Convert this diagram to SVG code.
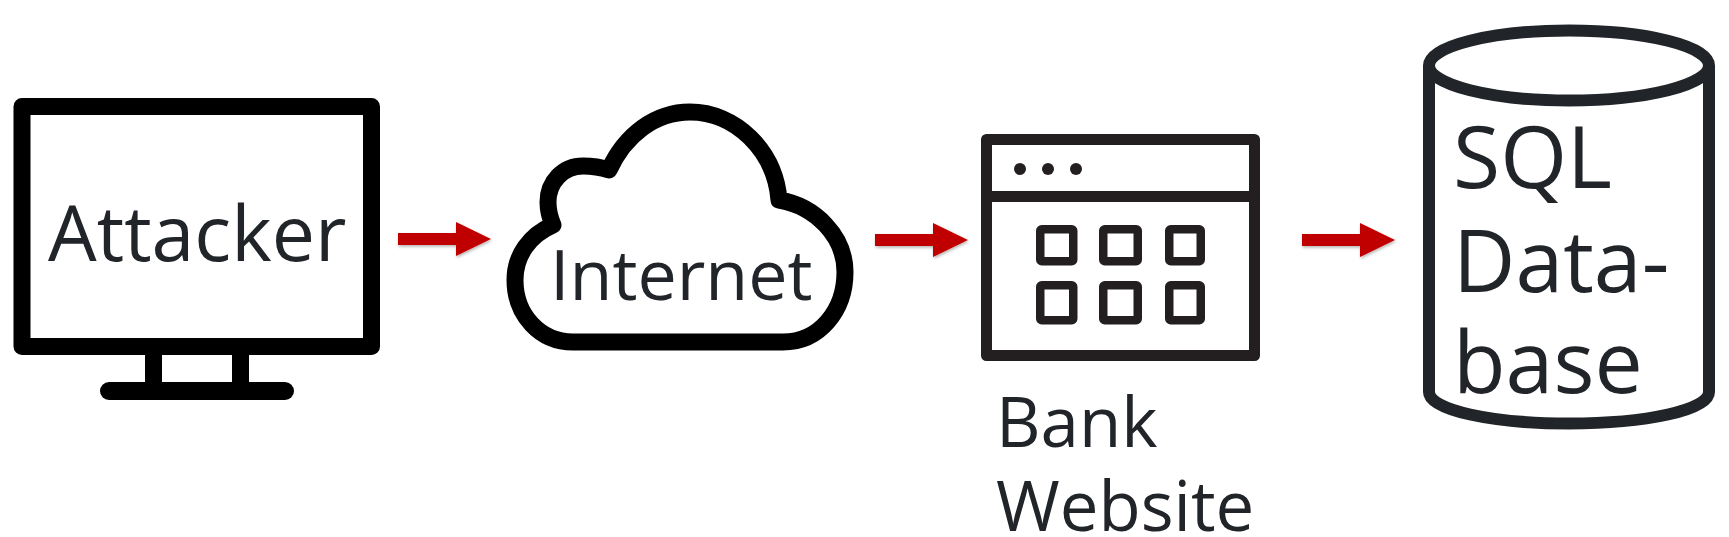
<svg xmlns="http://www.w3.org/2000/svg" width="1729" height="537" viewBox="0 0 1729 537">
  <style>
    text { font-family: "Open Sans", "Noto Sans", sans-serif; font-weight: 400; fill: #212529; }
    .icon { fill: none; stroke: #000; stroke-width: 17; stroke-linejoin: round; }
    .web { fill: none; stroke: #231f20; stroke-width: 11; stroke-linejoin: round; }
    .cell { fill: none; stroke: #231f20; stroke-width: 8.5; stroke-linejoin: round; }
    .db { fill: none; stroke: #212529; stroke-width: 12; stroke-linejoin: round; }
    .flow { stroke: #c00000; stroke-width: 12; fill: none; marker-end: url(#head); }
  </style>
  <defs>
    <marker id="head" markerUnits="userSpaceOnUse" markerWidth="35" markerHeight="34" refX="0" refY="17" orient="auto">
      <path d="M0 0 L35 17 L0 34 Z" fill="#c00000"/>
    </marker>
    <filter id="soft" filterUnits="userSpaceOnUse" x="380" y="200" width="1030" height="80">
      <feDropShadow dx="0.8" dy="1.6" stdDeviation="1.4" flood-color="#000" flood-opacity="0.3"/>
    </filter>
  </defs>
  <rect width="1729" height="537" fill="#fff"/>

  <g id="connectors" filter="url(#soft)">
    <line class="flow" x1="398" y1="239" x2="456" y2="239"/>
    <line class="flow" x1="875" y1="240" x2="933" y2="240"/>
    <line class="flow" x1="1302" y1="240" x2="1360" y2="240"/>
  </g>

  <g id="attacker">
    <rect class="icon" x="22" y="106.500" width="349.500" height="240"/>
    <rect x="145" y="350" width="17" height="36"/>
    <rect x="232" y="350" width="17" height="36"/>
    <rect x="100" y="382" width="194" height="18" rx="9"/>
    <text x="48" y="261" font-size="77">Attacker</text>
  </g>

  <g id="internet">
    <path class="icon" d="M573 342 H783 C820 342 845 310 845 272 C845 236 815 206 779 200 C775 150 735 112 690 112 C655 112 625 135 609 170 C600 167 592 166 583 166 C563 166 548 182 548 202 C548 210 550 218 553 225 C530 235 515 255 515 280 C515 315 540 342 573 342 Z"/>
    <text x="550" y="300" font-size="70">Internet</text>
  </g>

  <g id="bank-website">
    <rect class="web" x="986.500" y="139.500" width="268" height="216"/>
    <line class="web" x1="986.500" y1="196.500" x2="1254.500" y2="196.500"/>
    <circle cx="1020" cy="169" r="6" fill="#231f20"/>
    <circle cx="1048" cy="169" r="6" fill="#231f20"/>
    <circle cx="1076" cy="169" r="6" fill="#231f20"/>
    <rect class="cell" x="1040.250" y="229.250" width="33" height="32" rx="1.500"/>
    <rect class="cell" x="1103.250" y="229.250" width="34.500" height="32" rx="1.500"/>
    <rect class="cell" x="1169.250" y="229.250" width="31.500" height="32" rx="1.500"/>
    <rect class="cell" x="1040.250" y="285.250" width="33" height="35" rx="1.500"/>
    <rect class="cell" x="1103.250" y="285.250" width="34.500" height="35" rx="1.500"/>
    <rect class="cell" x="1169.250" y="285.250" width="31.500" height="35" rx="1.500"/>
    <text x="996" y="447" font-size="69">Bank</text>
    <text x="996" y="531" font-size="69">Website</text>
  </g>

  <g id="sql-database">
    <ellipse class="db" cx="1569" cy="65.500" rx="140" ry="35"/>
    <path class="db" d="M1429 65.500 V392 C1429 410 1492 423.500 1569 423.500 C1646 423.500 1709 410 1709 392 V65.500"/>
    <text x="1453" y="188" font-size="86">SQL</text>
    <text x="1453" y="292" font-size="86">Data-</text>
    <text x="1453" y="393" font-size="86">base</text>
  </g>
</svg>
